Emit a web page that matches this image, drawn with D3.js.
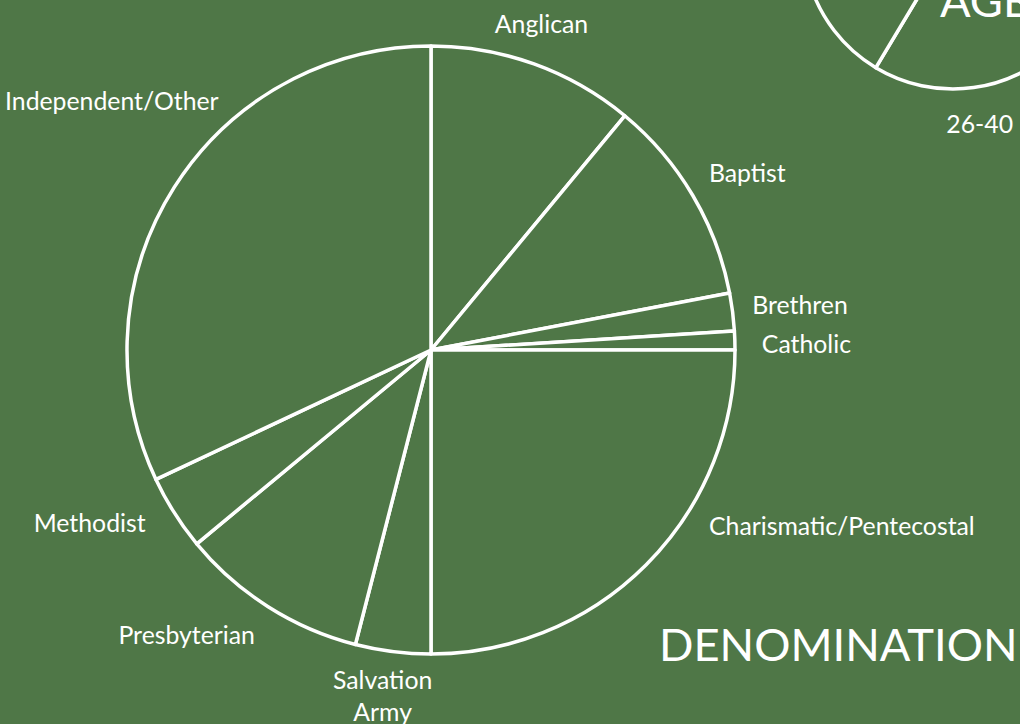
<!DOCTYPE html>
<html>
<head>
<meta charset="utf-8">
<script src="https://cdn.jsdelivr.net/npm/d3@7"></script>
<style>
  html, body { margin: 0; padding: 0; background: #4f7747; overflow: hidden; }
  svg text { font-family: Lato, "Open Sans", sans-serif; fill: #fff; }
</style>
</head>
<body>
<svg></svg>
<script>
var width = 1020;
var height = 724;
var bg = "#4f7747";

// denomination (%)
var denominations = ["Anglican", "Baptist", "Brethren", "Catholic", "Charismatic/Pentecostal",
                     "Salvation Army", "Presbyterian", "Methodist", "Independent/Other"];
var denomValues = [11, 11, 2, 1, 25, 4, 10, 4, 32];

// age (%) - only part of this pie is on screen
var ageGroups = ["41-60", "26-40", "18-25", "61+"];
var ageValues = [37, 21.6, 25, 16.4];

// 少しずらすラベル [dx, dy]
var nudge = {
    "Anglican": [-4, 0],
    "Baptist": [-13, 3],
    "Brethren": [-14, 5],
    "Catholic": [-7, 12],
    "Charismatic/Pentecostal": [39, -56],
    "Salvation Army": [-6, 2],
    "Presbyterian": [5, 7],
    "Methodist": [0, -1],
    "Independent/Other": [73, -60]
};

var svg = d3.select("svg");
svg.attr("width", width).attr("height", height);

/* draw_pie
 * cx, cy: 中心  r: 半径  labelR: ラベルの半径
 */
function draw_pie(names, values, cx, cy, r, labelR) {
    var data = names.map(function(d, i) { return { name: d, value: values[i] }; });
    var pie = d3.pie().sort(null).value(d => d.value);
    var arc = d3.arc().innerRadius(0).outerRadius(r);
    var labelArc = d3.arc().innerRadius(labelR).outerRadius(labelR);
    var arcs = pie(data);

    var g = svg.append("g").attr("transform", "translate(" + cx + "," + cy + ")");

    g.selectAll("path")
        .data(arcs)
        .enter()
        .append("path")
        .attr("d", arc)
        .attr("fill", bg)
        .attr("stroke", "#fff")
        .attr("stroke-width", 3.5)
        .attr("stroke-linejoin", "round");

    // 画面外に出るラベルは描かない
    var pos = function(d) {
        var c = labelArc.centroid(d);
        var n = nudge[d.data.name] || [0, 0];
        return [c[0] + n[0], c[1] + n[1] + 1.5];
    };
    var visible = arcs.filter(function(d) {
        var p = pos(d);
        return cx + p[0] > 0 && cx + p[0] < width && cy + p[1] > 20 && cy + p[1] < height + 40;
    });

    var lab = g.selectAll("text")
        .data(visible)
        .enter()
        .append("text")
        .attr("font-size", 24.8)
        .attr("text-anchor", function(d) {
            var s = Math.sin((d.startAngle + d.endAngle) / 2);
            if (s > 0.4) return "start";
            if (s < -0.4) return "end";
            return "middle";
        })
        .attr("transform", d => "translate(" + pos(d) + ")");

    // "Salvation Army" は2行
    lab.each(function(d) {
        var t = d3.select(this);
        var words = d.data.name == "Salvation Army" ? ["Salvation", "Army"] : [d.data.name];
        words.forEach(function(w, i) {
            t.append("tspan").attr("x", 0).attr("dy", i ? 32 : 0).text(w);
        });
    });
}

draw_pie(ageGroups, ageValues, 953, -61, 150, 194);
draw_pie(denominations, denomValues, 431, 350, 304, 338);

svg.append("text")
    .attr("x", 659).attr("y", 661)
    .attr("font-size", 45.3)
    .text("DENOMINATION");

svg.append("text")
    .attr("x", 940).attr("y", 17)
    .attr("font-size", 45.3)
    .text("AGE");
</script>
</body>
</html>
